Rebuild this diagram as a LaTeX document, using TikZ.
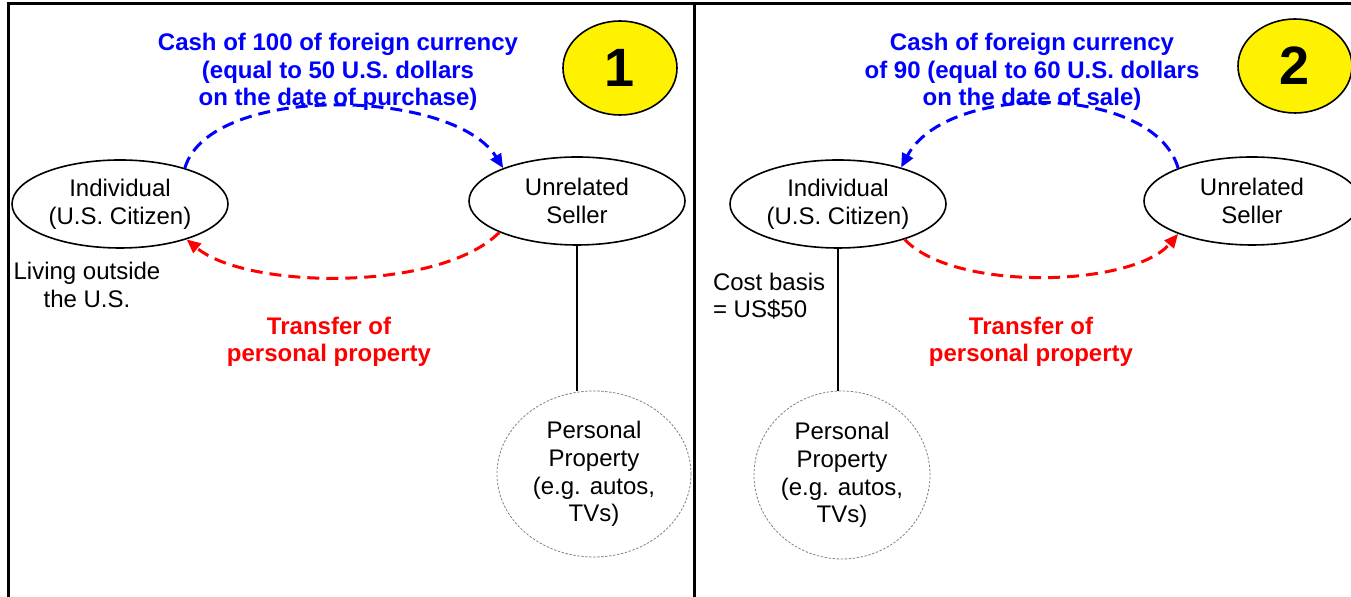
\documentclass[tikz,border=0pt]{standalone}
\usepackage{fontspec}
\setmainfont{Liberation Sans}
\usetikzlibrary{shapes.geometric, arrows.meta}

\begin{document}
\begin{tikzpicture}[%
x=0.5pt, y=-0.5pt,
font=\fontsize{12}{13.8}\selectfont,
party/.style={draw, ellipse, line width=0.8pt, minimum width=108pt, minimum height=44pt, inner sep=0pt, align=center},
goods/.style={draw=gray, ellipse, line width=0.4pt, dash pattern=on 1.2pt off 0.8pt, inner sep=0pt, align=center},
badge/.style={draw, ellipse, fill=yellow, line width=0.8pt, minimum width=57pt, minimum height=47pt, font=\fontsize{27}{30}\bfseries},
cashnote/.style={text=blue, font=\fontsize{12}{13.8}\bfseries, align=center},
propnote/.style={text=red, font=\fontsize{12}{13.8}\bfseries, align=center},
cashflow/.style={draw=blue, line width=1.5pt, dash pattern=on 6pt off 3.5pt, -{Triangle[length=7pt,width=6pt]}},
propflow/.style={draw=red, line width=1.5pt, dash pattern=on 6pt off 3.5pt, -{Triangle[length=7pt,width=6pt]}}]
\useasboundingbox (0,0) rectangle (1351,597);
\draw[line width=1.5pt] (8,597) -- (8,4) -- (1351,4);
\draw[line width=1.5pt] (694,4) -- (694,597);

\node[party] (indL) at (120,204) {Individual\\(U.S. Citizen)};
\node[party] (sellL) at (577,201) {Unrelated\\Seller};
\node[goods, minimum width=97pt, minimum height=83pt] (propL) at (594,474) {Personal\\Property\\(e.g. autos,\\TVs)};
\node[badge] (oneL) at (620,68) {1};
\node[cashnote] (cashL) at (338,72) {Cash of 100 of foreign currency\\(equal to 50 U.S. dollars\\on the date of purchase)};
\node[propnote] (transL) at (329,342) {Transfer of\\personal property};
\node[align=center] (liveL) at (87,285) {Living outside\\the U.S.};
\draw[line width=0.8pt] (sellL.south) -- (sellL.south |- propL.north);
\draw[cashflow] (indL.29) .. controls +(25,-85) and +(-50,-80) .. (sellL.156);
\draw[propflow] (sellL.202) .. controls +(-60,60) and +(60,50) .. (indL.-28);

\node[party] (indR) at (838,204) {Individual\\(U.S. Citizen)};
\node[party] (sellR) at (1252,201) {Unrelated\\Seller};
\node[goods, minimum width=88pt, minimum height=84pt] (propR) at (842,475) {Personal\\Property\\(e.g. autos,\\TVs)};
\node[badge] (twoR) at (1295,66) {2};
\node[cashnote] (cashR) at (1032,72) {Cash of foreign currency\\of 90 (equal to 60 U.S. dollars\\on the date of sale)};
\node[propnote] (transR) at (1031,342) {Transfer of\\personal property};
\node[align=left, anchor=west] (costR) at (706,296) {Cost basis\\= US\$50};
\draw[line width=0.8pt] (indR.south) -- (indR.south |- propR.north);
\draw[cashflow] (sellR.156) .. controls +(-25,-85) and +(45,-85) .. (indR.30);
\draw[propflow] (indR.-28) .. controls +(50,53) and +(-45,53) .. (sellR.204);
\end{tikzpicture}
\end{document}
